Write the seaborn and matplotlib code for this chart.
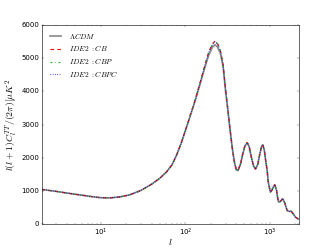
import numpy as np
import pandas as pd
import matplotlib
matplotlib.use("Agg")
import matplotlib.pyplot as plt
import seaborn as sns

# multipoles and D_l values
ell = [2, 3, 4, 6, 8, 10, 13, 17, 22, 30, 40, 50, 60, 70, 80, 90, 100, 115,
       130, 150, 170, 190, 210, 225, 240, 260, 280, 300, 320, 340, 360, 380,
       400, 420, 450, 480, 510, 540, 570, 600, 640, 676, 720, 760, 800, 824,
       860, 900, 930, 960, 1016, 1060, 1100, 1143, 1200, 1240, 1274, 1330,
       1420, 1500, 1600, 1700, 1782, 1850, 1950, 2005, 2180]

lcdm = [1045, 985, 935, 870, 825, 795, 790, 820, 880, 1015, 1200, 1380, 1570,
        1790, 2110, 2450, 2800, 3270, 3680, 4220, 4700, 5100, 5330, 5400,
        5340, 5150, 4750, 4000, 3400, 2800, 2280, 1880, 1650, 1610, 1800,
        2120, 2360, 2440, 2330, 2050, 1760, 1657, 1800, 2100, 2340, 2390,
        2230, 1850, 1617, 1250, 964, 1020, 1120, 1187, 1020, 780, 663, 680,
        765, 640, 413, 380, 392, 340, 260, 211, 150]

ide2_cb = [1045, 985, 935, 870, 825, 795, 790, 820, 880, 1015, 1200, 1380,
           1570, 1790, 2110, 2450, 2810, 3290, 3720, 4270, 4770, 5190, 5430,
           5515, 5450, 5240, 4820, 4050, 3430, 2820, 2290, 1885, 1650, 1610,
           1805, 2130, 2375, 2460, 2345, 2055, 1760, 1657, 1800, 2100, 2345,
           2395, 2230, 1850, 1617, 1250, 964, 1020, 1120, 1187, 1020, 780, 663,
           680, 765, 640, 413, 380, 392, 340, 260, 211, 150]

ide2_cbp = [1045, 985, 935, 870, 825, 795, 790, 820, 880, 1015, 1200, 1380,
            1570, 1790, 2110, 2450, 2805, 3285, 3710, 4260, 4760, 5180, 5415,
            5500, 5440, 5230, 4810, 4045, 3425, 2815, 2288, 1884, 1650, 1610,
            1803, 2128, 2372, 2455, 2342, 2053, 1760, 1657, 1800, 2100, 2343,
            2393, 2230, 1850, 1617, 1250, 964, 1020, 1120, 1187, 1020, 780, 663,
            680, 765, 640, 413, 380, 392, 340, 260, 211, 150]

ide2_cbpc = [1045, 985, 935, 870, 825, 795, 790, 820, 880, 1015, 1200, 1380,
             1570, 1790, 2110, 2450, 2805, 3280, 3705, 4255, 4750, 5170, 5405,
             5490, 5430, 5225, 4805, 4040, 3420, 2812, 2286, 1883, 1650, 1610,
             1802, 2126, 2370, 2452, 2340, 2052, 1760, 1657, 1800, 2100, 2342,
             2392, 2230, 1850, 1617, 1250, 964, 1020, 1120, 1187, 1020, 780,
             663, 680, 765, 640, 413, 380, 392, 340, 260, 211, 150]

plt.style.use("classic")
plt.rcParams["mathtext.fontset"] = "cm"
plt.rcParams["figure.facecolor"] = "white"

fig, ax = plt.subplots(figsize=(8, 6), dpi=41.5)

sns.lineplot(x=ell, y=lcdm, ax=ax, color="0.55", lw=3, label=r"$\Lambda CDM$")
sns.lineplot(x=ell, y=ide2_cb, ax=ax, color="r", lw=2, ls="--", label=r"$IDE2\ {:}CB$")
sns.lineplot(x=ell, y=ide2_cbp, ax=ax, color="#11bb11", lw=2, ls="-.", label=r"$IDE2\ {:}CBP$")
sns.lineplot(x=ell, y=ide2_cbpc, ax=ax, color="b", lw=2, ls=":", label=r"$IDE2\ {:}CBPC$")

ax.set_xscale("log")
ax.set_xlim(2, 2200)
ax.set_ylim(0, 6000)
ax.set_xlabel(r"$l$", fontsize=17, labelpad=-2)
ax.set_ylabel(r"$l(l+1)C_l^{TT}/(2\pi)[\mu K^2$", fontsize=17, labelpad=4)
ax.legend(loc="upper left", frameon=False, fontsize=13)

fig.savefig("out.png", dpi=41.5)
